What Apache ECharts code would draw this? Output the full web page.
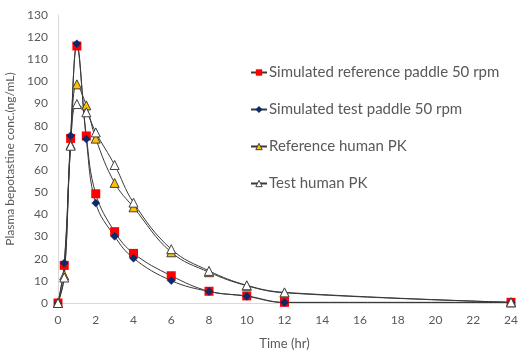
<!DOCTYPE html>
<html>
<head>
<meta charset="utf-8">
<script src="https://cdn.jsdelivr.net/npm/echarts@6/dist/echarts.min.js"></script>
<style>
  html, body { margin: 0; padding: 0; background: #fff; }
  #chart { width: 524px; height: 350px; }
</style>
</head>
<body>
<div id="chart"></div>
<script>
// time points (hr)
const time_hr = [0, 0.33, 0.67, 1, 1.5, 2, 3, 4, 6, 8, 10, 12, 24];

// plasma conc. (ng/mL) per series
const sim_reference = [0, 17, 74.3, 116, 75.4, 49.3, 32.2, 22.4, 12.3, 5.3, 3.2, 0.3, 0.3];
const sim_test = [0, 18, 75.5, 117, 74, 45.1, 30.1, 20.2, 10.1, 5.2, 3, 0.2, 0.2];
const ref_human = [0, 12.5, 71.4, 98.7, 89.2, 74.2, 54.2, 43.2, 22.9, 13.9, 7.8, 4.6, 0.3];
const test_human = [0, 11.5, 71, 89.8, 86.1, 77, 62.3, 45.3, 24.3, 14.5, 8, 4.8, 0.3];

const names = ["Simulated reference paddle 50 rpm", "Simulated test paddle 50 rpm", "Reference human PK", "Test human PK"];

const font = "Lato, sans-serif";
const textGray = "#595959";
const lineGray = "#3a3a3a";

// marker styles
const styles = [
  { color: "#ff0000" },
  { color: "#0b2a6b", borderColor: "#0b2a6b", borderWidth: 0.5 },
  { color: "#ffc000", borderColor: "#404040", borderWidth: 1 },
  { color: "#ffffff", borderColor: "#404040", borderWidth: 1 }
];

function pairs(ys) {
  return time_hr.map((t, i) => [t, ys[i]]);
}

function makeSeries(name, ys, symbol, size, itemStyle) {
  return {
    name: name,
    type: "line",
    data: pairs(ys),
    smooth: 0.4,
    symbol: symbol,
    symbolSize: size,
    showAllSymbol: true,
    lineStyle: { color: lineGray, width: 1 },
    itemStyle: itemStyle,
    emphasis: { disabled: true },
    z: 2
  };
}

const chart = echarts.init(document.getElementById("chart"), null, { renderer: "canvas" });

chart.setOption({
  animation: false,
  backgroundColor: "#fff",
  textStyle: { fontFamily: font },
  grid: { left: 58, right: 13, top: 15, bottom: 47, containLabel: false, outerBoundsMode: "none" },
  legend: {
    orient: "vertical",
    left: 245,
    top: 60,
    itemGap: 22,
    itemWidth: 16,
    itemHeight: 8,
    data: names.map((n, i) => ({ name: n, itemStyle: styles[i] })),
    textStyle: { color: textGray, fontSize: 15, fontFamily: font, padding: [0, 0, 0, -3] }
  },
  xAxis: {
    type: "value",
    min: 0, max: 24, interval: 2,
    name: "Time (hr)",
    nameLocation: "middle",
    nameGap: 34,
    nameTextStyle: { color: textGray, fontSize: 13 },
    axisLine: { show: true, lineStyle: { color: "#d9d9d9" } },
    axisTick: { show: false },
    axisLabel: { color: textGray, fontSize: 12, margin: 11 },
    splitLine: { show: false }
  },
  yAxis: {
    type: "value",
    min: 0, max: 130, interval: 10,
    name: "Plasma bepotastine conc.(ng/mL)",
    nameLocation: "middle",
    nameGap: 33,
    nameTextStyle: { color: textGray, fontSize: 12 },
    axisLine: { show: true, lineStyle: { color: "#d9d9d9" } },
    axisTick: { show: false },
    axisLabel: { color: textGray, fontSize: 12, margin: 10 },
    splitLine: { show: false }
  },
  series: [
    makeSeries(names[0], sim_reference, "rect", 9, styles[0]),
    makeSeries(names[1], sim_test, "diamond", 8, styles[1]),
    makeSeries(names[2], ref_human, "triangle", 9, styles[2]),
    makeSeries(names[3], test_human, "triangle", 9, styles[3])
  ]
});
</script>
</body>
</html>
